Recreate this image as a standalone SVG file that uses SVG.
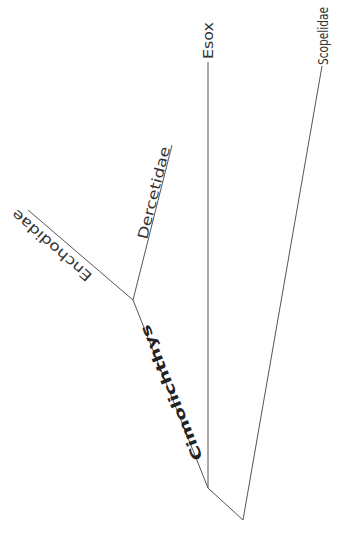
<svg xmlns="http://www.w3.org/2000/svg" width="342" height="549" viewBox="0 0 342 549">
<style>
.br{fill:none;stroke:#555;stroke-width:1}
.lb{font-family:"DejaVu Sans Condensed","Liberation Sans Narrow","Liberation Sans",sans-serif;font-size:14px;fill:#333}
.bd{font-weight:bold;fill:#222}
</style>
<rect width="342" height="549" fill="#fff"/>
<g id="connectors">
<polyline class="br" points="208,62 208,488 243,520 322,66"/>
<polyline class="br" points="172,145 133,300 208,488"/>
<line class="br" x1="133" y1="300" x2="28" y2="210"/>
</g>
<g id="Esox"><text class="lb" transform="translate(213,59) rotate(-90)" textLength="37" lengthAdjust="spacingAndGlyphs">Esox</text></g>
<g id="Scopelidae"><text class="lb" transform="translate(328,65) rotate(-90)" textLength="58" lengthAdjust="spacingAndGlyphs">Scopelidae</text></g>
<g id="Dercetidae"><text class="lb" transform="translate(147,240) rotate(-76)" textLength="95" lengthAdjust="spacingAndGlyphs">Dercetidae</text></g>
<g id="Enchodidae"><text class="lb" transform="translate(93,275) rotate(-139)" textLength="101" lengthAdjust="spacingAndGlyphs">Enchodidae</text></g>
<g id="Cimolichthys"><text class="lb bd" transform="translate(203,458) rotate(-112)" textLength="145" lengthAdjust="spacingAndGlyphs">Cimolichthys</text></g>
</svg>
